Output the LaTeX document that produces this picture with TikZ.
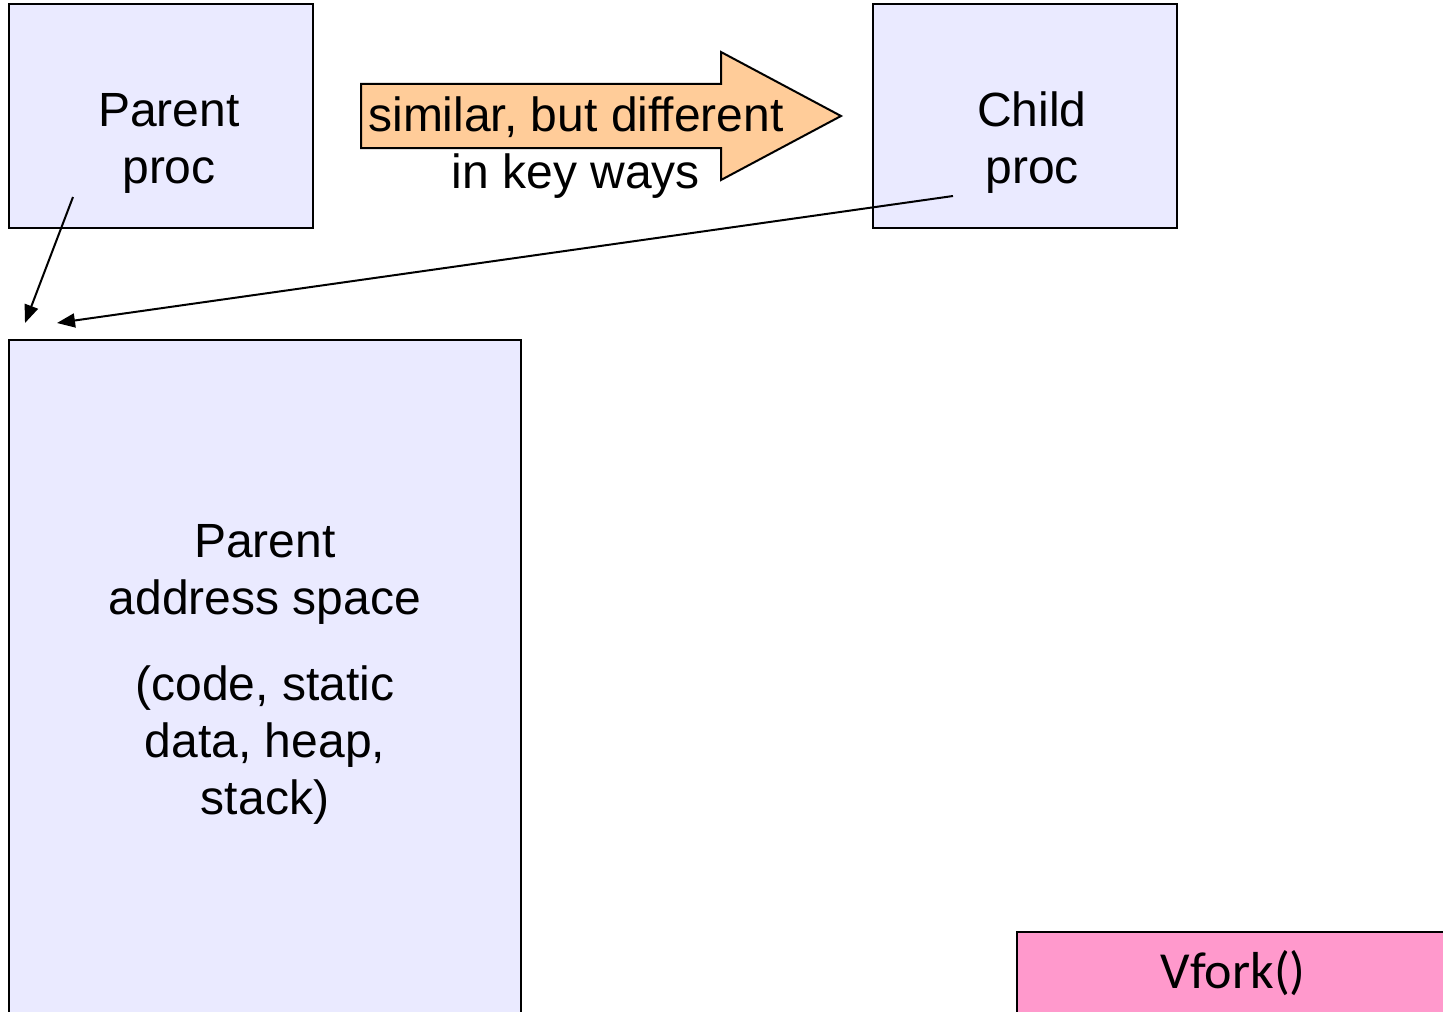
\documentclass[tikz,border=0pt]{standalone}
\usepackage{fontspec}
\setmainfont{Liberation Sans}
\newfontfamily\vforkfont{Carlito}
\usetikzlibrary{arrows.meta,positioning}
\definecolor{procblue}{RGB}{234,234,255}
\definecolor{simorange}{RGB}{255,204,153}
\definecolor{vforkpink}{RGB}{255,153,204}
\tikzset{
proc_box/.style={
	% The shape:
	rectangle,
	% The border:
	draw=black,
	line width=1.4pt,
	% The filling:
	fill=procblue,
	inner sep=0pt
},
big_text/.style={align=center, font=\fontsize{24}{28.5}\selectfont},
ptr/.style={-{Triangle[length=9pt,width=7pt]}, line width=1pt}
}
\begin{document}
\begin{tikzpicture}[x=0.5pt,y=-0.5pt]
			\useasboundingbox (0,0) rectangle (1443,1011);
			\clip (0,0) rectangle (1443,1011);

			\node[proc_box, minimum width=152pt, minimum height=112pt] (parent) at (161,116) {};
			\node[big_text] (parent_lbl) at (169,143) {Parent\\proc};

			\node[proc_box, minimum width=152pt, minimum height=112pt] (child) at (1025,116) {};
			\node[big_text] (child_lbl) at (1032,143) {Child\\proc};

			\node[proc_box, minimum width=256pt, minimum height=350pt] (pspace) at (265,690) {};
			\node[big_text] (pspace_lbl) at (265,674) {Parent\\address space\\[14.5pt](code, static\\data, heap,\\stack)};

			\node[draw, line width=1.4pt, fill=vforkpink, minimum width=216pt, minimum height=41pt,
				font=\vforkfont\fontsize{26}{30}\selectfont] (vfork) at (1233,973) {Vfork()};

			% the big arrow
			\draw[fill=simorange, line width=1pt] (361,84) -- (721,84) -- (721,52) -- (841,116)
				-- (721,180) -- (721,148) -- (361,148) -- cycle;
			\node[big_text] (similar) at (576,148) {similar, but different\\in key ways};

			\coordinate (parent_tail) at (73,197);
			\coordinate (parent_tip) at (25,323);
			\coordinate (child_tail) at (953,196);
			\coordinate (child_tip) at (57,323);
			\draw[ptr] (parent_tail) -- (parent_tip);
			\draw[ptr] (child_tail) -- (child_tip);
		\end{tikzpicture}
\end{document}
